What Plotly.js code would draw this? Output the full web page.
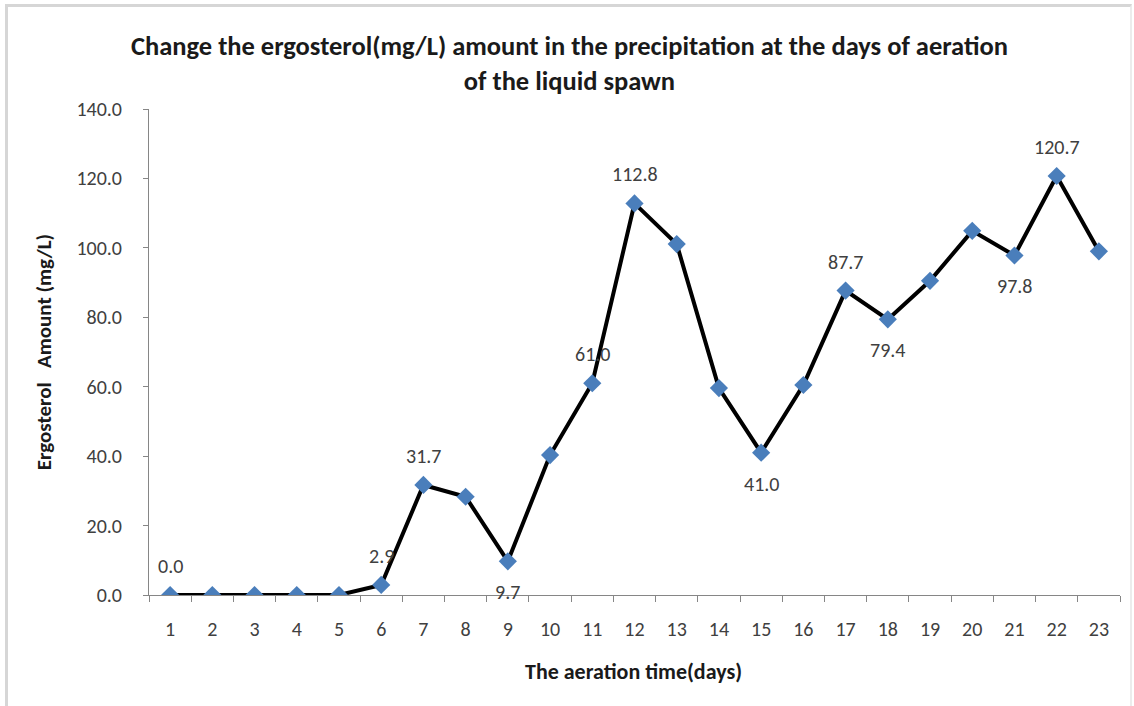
<!DOCTYPE html>
<html>
<head>
<meta charset="utf-8">
<script src="https://cdn.plot.ly/plotly-3.0.1.min.js"></script>
<style>
  html, body { margin: 0; padding: 0; background: #fff; }
  #wrap { position: relative; width: 1134px; height: 706px; overflow: hidden; }
  #chart { position: absolute; left: 0; top: 0; width: 1134px; height: 706px; }
  #frame {
    position: absolute; left: 5px; top: 4px; width: 1122px; height: 720px;
    border-top: 3px solid #d6d6d6; border-left: 3px solid #d6d6d6;
    border-right: 2px solid #ececec; pointer-events: none;
  }
</style>
</head>
<body>
<div id="wrap">
  <div id="chart"></div>
  <div id="frame"></div>
</div>
<script>
// Aeration day (category) and ergosterol amount in mg/L
const days = ["1","2","3","4","5","6","7","8","9","10","11","12","13","14","15","16","17","18","19","20","21","22","23"];
const ergosterol = [0.0, 0.0, 0.0, 0.0, 0.0, 2.9, 31.7, 28.3, 9.7, 40.3, 61.0, 112.8, 101.1, 59.6, 41.0, 60.5, 87.7, 79.4, 90.5, 104.9, 97.8, 120.7, 99.0];
// Which points carry a value label, and on which side
const labelSide = ["above","","","","","above","above","","below","","above","above","","","below","","above","below","","","below","above",""];

const yTicks = [0, 20, 40, 60, 80, 100, 120, 140];

const baseFont = "Carlito, 'Liberation Sans', Arial, sans-serif";
const labelFont = { family: baseFont, size: 20, color: "#404040" };

const annotations = [];
days.forEach((d, i) => {
  const side = labelSide[i];
  if (!side) return;
  annotations.push({
    x: i, y: ergosterol[i], xref: "x", yref: "y",
    text: ergosterol[i].toFixed(1),
    showarrow: false,
    font: labelFont,
    yshift: side === "above" ? 29 : -31,
    xanchor: "center", yanchor: "middle"
  });
});

// Axis titles
annotations.push({
  xref: "paper", yref: "paper", x: -0.108, y: 0.5,
  text: "<b>Ergosterol\u00A0\u00A0\u00A0Amount (mg/L)</b>",
  textangle: -90, showarrow: false,
  font: { family: baseFont, size: 21, color: "#1a1a1a" },
  xanchor: "center", yanchor: "middle"
});
annotations.push({
  xref: "paper", yref: "paper", x: 0.499, y: -0.158,
  text: "<b>The aeration time(days)</b>",
  showarrow: false,
  font: { family: baseFont, size: 22, color: "#1a1a1a" },
  xanchor: "center", yanchor: "middle"
});

const trace = {
  x: days,
  y: ergosterol,
  type: "scatter",
  mode: "lines+markers",
  line: { color: "#000000", width: 4 },
  marker: { symbol: "diamond", size: 14, color: "#4A7EBB", line: { width: 0 } },
  hoverinfo: "x+y"
};

const layout = {
  width: 1134, height: 706,
  margin: { l: 149, r: 14, t: 109, b: 111, pad: 0 },
  paper_bgcolor: "#ffffff", plot_bgcolor: "#ffffff",
  showlegend: false,
  title: {
    text: "<b>Change the ergosterol(mg/L) amount in the precipitation at the days of aeration<br>of the liquid spawn</b>",
    font: { family: baseFont, size: 26.5, color: "#1a1a1a" },
    x: 0.433, xref: "paper", xanchor: "center",
    y: 0.922, yref: "container", yanchor: "middle"
  },
  xaxis: {
    type: "category",
    categoryorder: "array", categoryarray: days,
    range: [-0.5, 22.5],
    tickson: "boundaries",
    ticks: "outside", ticklen: 6, tickcolor: "#868686", tickwidth: 1,
    showline: true, linecolor: "#868686", linewidth: 1,
    showgrid: false, zeroline: false,
    ticklabelstandoff: 16,
    tickfont: { family: baseFont, size: 20, color: "#404040" }
  },
  yaxis: {
    range: [0, 140],
    tickvals: yTicks,
    tickformat: ".1f",
    ticks: "outside", ticklen: 5, tickcolor: "#868686", tickwidth: 1,
    showline: true, linecolor: "#868686", linewidth: 1,
    showgrid: false, zeroline: false,
    ticklabelstandoff: 17,
    tickfont: { family: baseFont, size: 20, color: "#404040" }
  },
  annotations: annotations
};

Plotly.newPlot("chart", [trace], layout, { displayModeBar: false, staticPlot: true });
</script>
</body>
</html>
